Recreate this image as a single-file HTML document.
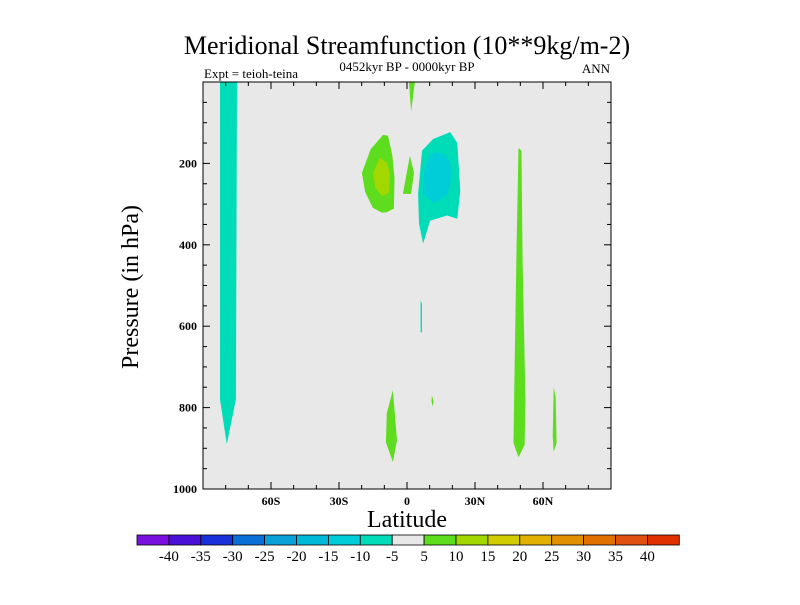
<!DOCTYPE html>
<html><head><meta charset="utf-8"><style>
body{margin:0;background:#fff;}
svg text{font-family:"Liberation Serif",serif;fill:#000;}
</style></head><body>
<svg id="chart" width="800" height="600" viewBox="0 0 800 600" xmlns="http://www.w3.org/2000/svg">
<text x="407" y="54" font-size="26" text-anchor="middle">Meridional Streamfunction (10**9kg/m-2)</text>
<text x="407" y="71" font-size="13" text-anchor="middle">0452kyr BP - 0000kyr BP</text>
<text x="204" y="78" font-size="13">Expt = teioh-teina</text>
<text x="610" y="73" font-size="13" text-anchor="end">ANN</text>
<rect x="203" y="82" width="408" height="407" fill="#e8e8e8"/>
<g id="shapes"></g>
<rect x="203" y="82" width="408" height="407" fill="none" stroke="#000" stroke-width="1"/>
<g id="axes"></g>
<text x="407" y="527" font-size="24" text-anchor="middle">Latitude</text>
<text transform="translate(138,287) rotate(-90)" font-size="24" text-anchor="middle">Pressure (in hPa)</text>
<g id="legend"></g>
</svg>
<script>
const levelLabels=[-40,-35,-30,-25,-20,-15,-10,-5,5,10,15,20,25,30,35,40];
const levelColors=["#7a10e0","#4a10d8","#1a30d8","#0a70d8","#0aa0d8","#00b8d8","#00cdd8","#00dcb8","#e8e8e8","#5edc1e","#a2d800","#d0cc00","#e2b000","#e09000","#e07000","#e05010","#e03000"];
const xTicks=[-60,-30,0,30,60];
const xTickLabels=["60S","30S","0","30N","60N"];
const yTicks=[200,400,600,800,1000];
// contour polygons: [lat, pressure] pairs, with level color index
const polyColors=[7,9,10,9,9,7,6,9,9,9,9,7];
const polys=[
 [[-82.5,0],[-75,0],[-75.5,780],[-79.5,890],[-82.5,780]],
 [[-10.6,130],[-8.4,132],[-6.5,180],[-5.5,235],[-5.8,311],[-9,320],[-11.1,321],[-15.1,309],[-18.5,270],[-19.9,223],[-16,165]],
 [[-12,186],[-8.5,200],[-7.5,230],[-8,272],[-11,280],[-14,260],[-15,223]],
 [[1.3,181],[3.1,223],[1.8,275],[-1.8,275]],
 [[0.9,0],[3.5,0],[1.8,73]],
 [[19.1,123],[22.2,150],[23.5,267],[22.2,336],[17.7,328],[10.2,341],[7.1,397],[5.3,348],[4.9,275],[6.6,169],[11.5,140]],
 [[12.4,172],[16.5,178],[18.9,195],[19.9,223],[18.9,255],[17.7,275],[14,292],[11.5,297],[7.1,275],[7,240],[8,211],[10,180]],
 [[49.2,162],[50.5,169],[51,439],[52.3,782],[51.9,892],[49.2,922],[47,887],[47.4,733],[48.3,414]],
 [[64.7,750],[65.6,775],[66,887],[64.7,909],[64.3,870]],
 [[-6.2,757],[-4.4,880],[-6.2,934],[-9.3,885],[-8.9,814]],
 [[11,770],[11.8,785],[11.4,797],[10.8,785]],
 [[6,537],[6.6,545],[6.6,615],[6,615]]
];
const NS="http://www.w3.org/2000/svg";
const L=203,R=611,T=82,B=489;
function xs(lat){return L+(lat+90)/180*(R-L);}
function ys(p){return T+p/1000*(B-T);}
function mk(tag,attrs,parent){const e=document.createElementNS(NS,tag);for(const k in attrs)e.setAttribute(k,attrs[k]);parent.appendChild(e);return e;}
const sg=document.getElementById('shapes');
polys.forEach((pts,i)=>{
 const e=mk('polygon',{points:pts.map(p=>xs(p[0]).toFixed(1)+','+ys(p[1]).toFixed(1)).join(' '),fill:levelColors[polyColors[i]]},sg);
 
 
});
const ag=document.getElementById('axes');
for(let lat=-80;lat<=80;lat+=10){
 const maj=lat%30===0; const x=xs(lat); const len=maj?7:4;
 const a=mk('line',{x1:x,x2:x,y1:B,y2:B-len,stroke:'#000'},ag);
 
 
 const b=mk('line',{x1:x,x2:x,y1:T,y2:T+len,stroke:'#000'},ag);
 
 
}
xTicks.forEach((v,i)=>{
 const t=mk('text',{x:xs(v),y:B+16,'font-size':12,'font-weight':'bold','text-anchor':'middle'},ag);
 t.textContent=xTickLabels[i];
 
 
});
for(let p=50;p<1000;p+=50){
 const maj=p%200===0; const y=ys(p); const len=maj?7:4;
 const a=mk('line',{x1:L,x2:L+len,y1:y,y2:y,stroke:'#000'},ag);
 
 
 const b=mk('line',{x1:R,x2:R-len,y1:y,y2:y,stroke:'#000'},ag);
 
 
}
yTicks.forEach(v=>{
 const t=mk('text',{x:L-6,y:ys(v)+4,'font-size':12,'font-weight':'bold','text-anchor':'end'},ag);
 t.textContent=v;
 
 
});
const lg=document.getElementById('legend');
const cx0=137,cw=31.9,cy=535,ch=10;
levelColors.forEach((c,i)=>{
 const r=mk('rect',{x:cx0+i*cw,y:cy,width:cw,height:ch,fill:c,stroke:'#000','stroke-width':0.8},lg);
 
 
});
levelLabels.forEach((v,i)=>{
 const t=mk('text',{x:cx0+(i+1)*cw,y:cy+26,'font-size':15,'text-anchor':'middle'},lg);
 t.textContent=v;
 
 
});
</script>
</body></html>
